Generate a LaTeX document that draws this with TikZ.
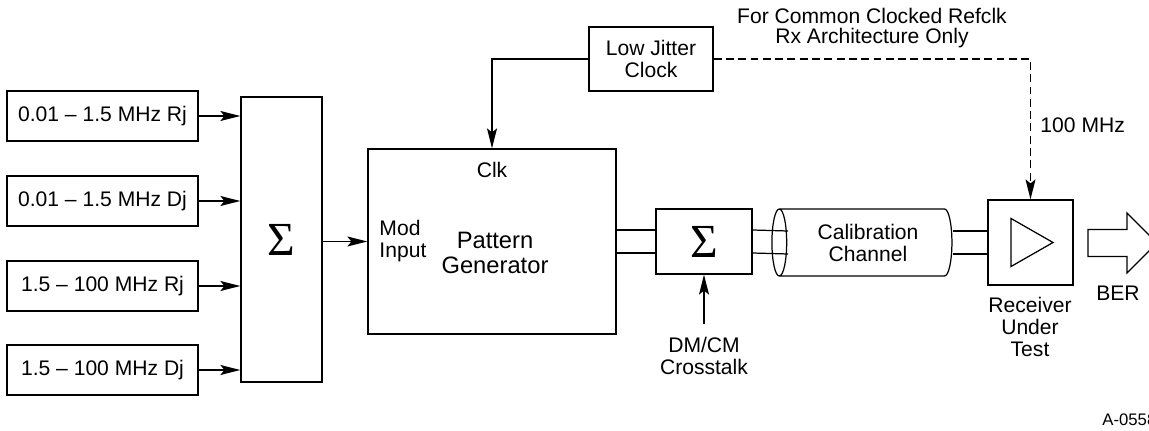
\documentclass[tikz,border=0pt]{standalone}
\usepackage{fontspec}
\setmainfont{Liberation Sans}
\newfontfamily\sigfont{Liberation Serif}
\usetikzlibrary{shapes.geometric,arrows.meta}

\begin{document}
\begin{tikzpicture}[>={Stealth[length=4mm,width=2mm,inset=0.8mm]},line width=0.7pt,
  src/.style={draw,minimum width=3.82cm,minimum height=1.0cm,font=\fontsize{12}{12.5}\selectfont},
  sumb/.style={draw,font=\sigfont\fontsize{27}{27}\selectfont},
  lab/.style={align=center,font=\fontsize{12}{12.5}\selectfont}]
  \useasboundingbox (0,0) rectangle (22.98,8.6);
  \node[src] (n1) at (2.05,6.28) {0.01 – 1.5 MHz Rj};
  \node[src] (n2) at (2.05,4.58) {0.01 – 1.5 MHz Dj};
  \node[src] (n3) at (2.05,2.88) {1.5 – 100 MHz Rj};
  \node[src] (n4) at (2.05,1.20) {1.5 – 100 MHz Dj};
  \node[sumb,minimum width=1.62cm,minimum height=5.7cm] (n5) at (5.63,3.81) {Σ};
  \node[draw,minimum width=4.96cm,minimum height=3.7cm] (n6) at (9.84,3.77) {};
  \node[lab] (n6a) at (9.84,5.2) {Clk};
  \node[lab,align=left,anchor=west] (n6b) at (7.46,3.78) {Mod\\Input};
  \node[lab,font=\fontsize{13.5}{14.5}\selectfont] (n6c) at (9.9,3.54) {Pattern\\Generator};
  \node[sumb,minimum width=1.92cm,minimum height=1.3cm] (n7) at (14.08,3.77) {Σ};
  \node[lab,draw,cylinder,shape border rotate=180,aspect=0.3,minimum width=1.34cm,minimum height=3.6cm] (n8) at (17.36,3.75) {Calibration\\Channel};
  \coordinate (n8in) at (15.76,3.75);
  \node[draw,minimum width=1.7cm,minimum height=1.7cm] (n9) at (20.61,3.75) {};
  \draw ([xshift=-0.39cm,yshift=0.48cm]n9.center) -- ([xshift=0.45cm]n9.center) -- ([xshift=-0.39cm,yshift=-0.48cm]n9.center) -- cycle;
  \node[lab] (n10) at (20.6,2.06) {Receiver\\Under\\Test};
  \node[lab,draw,minimum width=2.48cm,minimum height=1.28cm] (n11) at (13.02,7.42) {Low Jitter\\Clock};
  \node[lab,font=\fontsize{12}{11.5}\selectfont] (n12) at (17.44,8.04) {For Common Clocked Refclk\\Rx Architecture Only};
  \node[lab,anchor=west] (n13) at (20.68,6.1) {100 MHz};
  \node[lab] (n14) at (14.08,1.48) {DM/CM\\Crosstalk};
  \node[lab] (n15) at (22.36,2.74) {BER};
  \node[anchor=west,font=\fontsize{9.5}{10}\selectfont] (n16) at (21.92,0.2) {A-0558};
  \coordinate (n17) at (21.76,3.74);
  \draw (n17) ++(0,0.27) -- ++(0.78,0) -- ++(0,0.33) -- ++(0.6,-0.6) -- ++(-0.6,-0.6) -- ++(0,0.33) -- ++(-0.78,0) -- cycle;
  \foreach \i in {1,...,4}
    \draw[->] (n\i.east) -- (n\i.east -| n5.west);
  \draw[->] (n5.east |- n6.west) -- (n6.west);
  \foreach \s in {0.23,-0.23} {
    \draw ([yshift=\s cm]n6.east) -- ([yshift=\s cm]n7.west);
    \draw ([yshift=\s cm]n7.east) -- ([yshift=\s cm]n8in);
    \draw ([yshift=\s cm]n8.east) -- ([yshift=\s cm]n8.east -| n9.west);
  }
  \draw[->] (n11.west) -| (n6.north);
  \draw[->,dash pattern=on 4.5pt off 2.5pt] (n11.east) -| (n9.north);
  \draw[->] ([yshift=0.14cm]n14.north) -- (n7.south);
\end{tikzpicture}
\end{document}
